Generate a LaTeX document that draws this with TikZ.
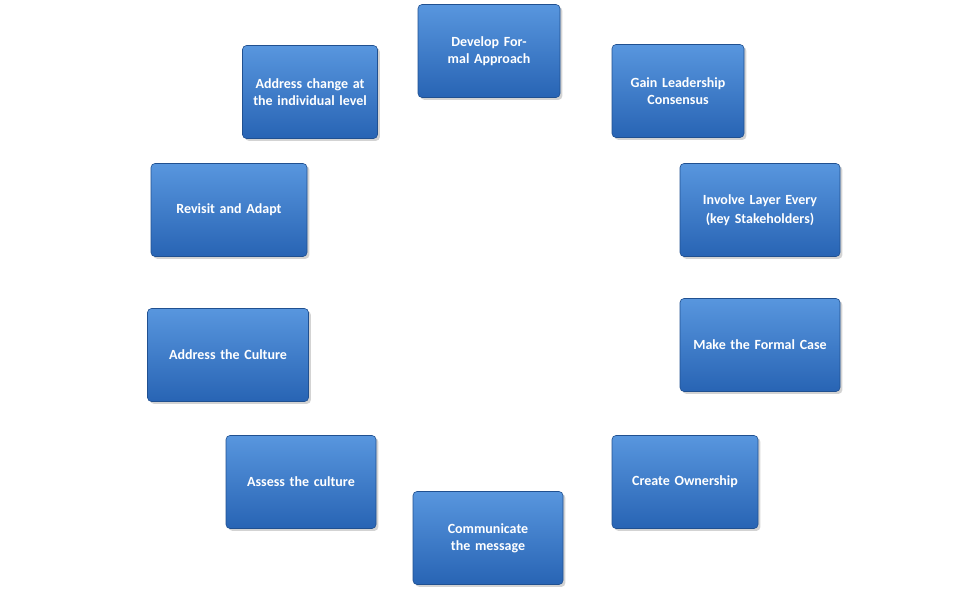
\documentclass[tikz,border=0pt]{standalone}
\usepackage{fontspec}
\setmainfont{Carlito}
\usetikzlibrary{shadows}
\definecolor{boxtop}{RGB}{88,150,222}
\definecolor{boxbot}{RGB}{40,100,180}
\tikzset{stepbox/.style={rounded corners=4pt, top color=boxtop, bottom color=boxbot,
  draw=boxbot!80!black, line width=0.6pt, drop shadow={opacity=0.35},
  minimum width=#1, minimum height=93pt, text width=#1-16pt, align=center,
  text=white, font=\bfseries\fontsize{14}{17}\selectfont, inner sep=2pt}}
\begin{document}
\begin{tikzpicture}[x=1pt,y=-1pt]
  \useasboundingbox (0,0) rectangle (977,598);
  \node[stepbox=142pt] (develop)   at (489,51)  {Develop Formal Approach};
  \node[stepbox=132pt] (gain)      at (678,91)  {Gain Leadership Consensus};
  \node[stepbox=160pt] (involve)   at (760,210) {Involve Layer Every\\[2pt](key Stakeholders)};
  \node[stepbox=160pt] (make)      at (760,345) {Make the Formal Case};
  \node[stepbox=146pt] (ownership) at (685,482) {Create Ownership};
  \node[stepbox=150pt] (message)   at (488,538) {Communicate the message};
  \node[stepbox=150pt] (assess)    at (301,482) {Assess the culture};
  \node[stepbox=161pt] (culture)   at (228,355) {Address the Culture};
  \node[stepbox=156pt] (revisit)   at (229,210) {Revisit and Adapt};
  \node[stepbox=135pt] (change)    at (310,92)  {Address change at the individual level};
\end{tikzpicture}
\end{document}
